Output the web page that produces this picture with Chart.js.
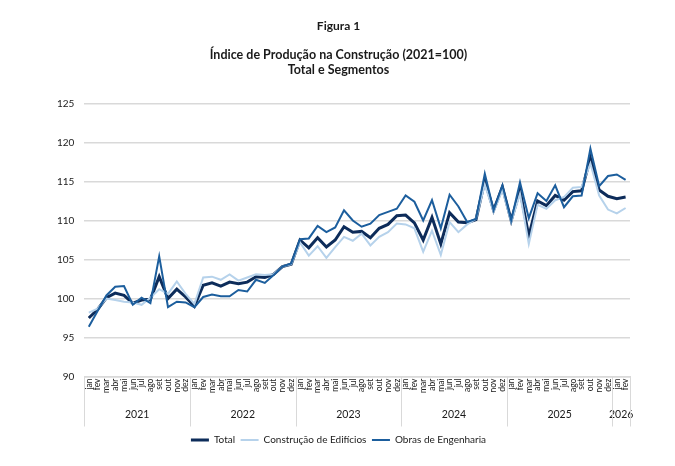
<!DOCTYPE html>
<html>
<head>
<meta charset="utf-8">
<script src="https://cdn.jsdelivr.net/npm/chart.js@4.4.1/dist/chart.umd.min.js"></script>
<style>
  html, body { margin: 0; padding: 0; background: #ffffff; }
  #wrap { width: 675px; height: 466px; position: relative; }
</style>
</head>
<body>
<div id="wrap"><canvas id="c" width="675" height="466"></canvas></div>
<script>
// ---- data ----
const monthNames = ['jan','fev','mar','abr','mai','jun','jul','ago','set','out','nov','dez'];
const years = ['2021','2022','2023','2024','2025','2026'];
const monthsPerYear = [12, 12, 12, 12, 12, 2];

const total = [
  97.5, 98.6, 100.1, 100.7, 100.4, 99.4, 99.8, 99.9, 102.8, 100.0, 101.2, 100.2,
  99.0, 101.7, 102.0, 101.6, 102.1, 101.9, 102.1, 102.8, 102.7, 103.1, 104.1, 104.4,
  107.5, 106.5, 107.8, 106.6, 107.5, 109.2, 108.5, 108.6, 107.8, 109.0, 109.5, 110.6,
  110.7, 109.7, 107.5, 110.4, 107.0, 111.0, 109.8, 109.7, 110.1, 115.1, 111.3, 114.3,
  110.0, 113.9, 108.0, 112.5, 111.9, 113.2, 112.6, 113.7, 113.8, 118.0, 113.9, 113.1,
  112.8, 113.0
];
const edificios = [
  98.2, 98.7, 100.0, 99.8, 99.6, 99.5, 99.2, 100.1, 101.2, 100.6, 102.2, 100.6,
  99.3, 102.7, 102.8, 102.4, 103.1, 102.3, 102.7, 103.1, 103.0, 103.1, 104.1, 104.4,
  107.2, 105.5, 106.7, 105.2, 106.6, 107.9, 107.4, 108.3, 106.8, 107.9, 108.5, 109.6,
  109.5, 109.0, 106.0, 108.7, 105.6, 109.8, 108.5, 109.5, 110.2, 114.6, 111.1, 113.9,
  109.8, 113.4, 107.0, 112.0, 111.5, 112.6, 113.0, 114.2, 114.3, 117.3, 113.2, 111.4,
  110.9, 111.6
];
const engenharia = [
  96.4, 98.4, 100.4, 101.5, 101.6, 99.2, 100.1, 99.4, 105.4, 98.9, 99.6, 99.5,
  98.9, 100.2, 100.5, 100.3, 100.3, 101.1, 100.9, 102.4, 102.0, 103.0, 104.1, 104.5,
  107.6, 107.7, 109.3, 108.5, 109.1, 111.3, 110.0, 109.2, 109.6, 110.7, 111.1, 111.5,
  113.2, 112.4, 110.0, 112.6, 109.0, 113.3, 111.8, 109.8, 110.2, 116.0, 111.3, 114.5,
  110.0, 114.9, 110.3, 113.5, 112.5, 114.5, 111.7, 113.1, 113.2, 119.2, 114.4, 115.7,
  115.9, 115.2
];

// build category labels and year positions from the arrays
const labels = [];
const yearCenters = [];
const yearBounds = [];
let idx = 0;
monthsPerYear.forEach((n) => {
  yearBounds.push(idx);
  for (let m = 0; m < n; m++) labels.push(monthNames[m]);
  yearCenters.push(idx + (n - 1) / 2);
  idx += n;
});
yearBounds.push(idx);

const FONT = "Lato, 'Open Sans', sans-serif";
const GRID = '#d9d9d9';
const TXT = '#1a1a1a';

// year separators, positioned with the x2 scale
const yearSeparators = {
  id: 'yearSeparators',
  afterDraw(chart) {
    const s = chart.scales.x2;
    const ctx = chart.ctx;
    ctx.save();
    ctx.strokeStyle = GRID;
    ctx.lineWidth = 1;
    yearBounds.forEach((b) => {
      const px = Math.round(s.getPixelForValue(b - 0.5)) + 0.5;
      ctx.beginPath();
      ctx.moveTo(px, chart.chartArea.bottom);
      ctx.lineTo(px, s.bottom - 3);
      ctx.stroke();
    });
    ctx.restore();
  }
};

const chart = new Chart(document.getElementById('c'), {
  type: 'line',
  data: {
    labels: labels,
    datasets: [
      { label: 'Total', data: total, borderColor: '#0d2c5a', backgroundColor: '#0d2c5a',
        borderWidth: 3, pointRadius: 0, tension: 0, order: 3 },
      { label: 'Construção de Edifícios', data: edificios, borderColor: '#b6d2eb', backgroundColor: '#b6d2eb',
        borderWidth: 2, pointRadius: 0, tension: 0, order: 2 },
      { label: 'Obras de Engenharia', data: engenharia, borderColor: '#1c5e9d', backgroundColor: '#1c5e9d',
        borderWidth: 2, pointRadius: 0, tension: 0, order: 1 }
    ]
  },
  plugins: [yearSeparators],
  options: {
    responsive: false,
    animation: false,
    devicePixelRatio: 1,
    layout: { padding: { left: 47, right: 45, top: 0, bottom: 11 } },
    plugins: {
      tooltip: { enabled: false },
      title: {
        display: true, text: 'Figura 1', color: TXT,
        font: { family: FONT, size: 12, weight: 'bold' },
        padding: { top: 19, bottom: 14 }
      },
      subtitle: {
        display: true, text: ['Índice de Produção na Construção (2021=100)', 'Total e Segmentos'], color: TXT,
        font: { family: FONT, size: 12.5, weight: 'bold', lineHeight: 1.18 },
        padding: { top: 0, bottom: 26.5 }
      },
      legend: {
        position: 'bottom',
        labels: {
          color: TXT, font: { family: FONT, size: 10 },
          usePointStyle: true, pointStyle: 'line', pointStyleWidth: 18,
          padding: 5.5,
          sort: (a, b) => a.datasetIndex - b.datasetIndex
        }
      }
    },
    scales: {
      y: {
        min: 90, max: 125,
        ticks: { stepSize: 5, color: TXT, font: { family: FONT, size: 10 }, padding: 10 },
        grid: { color: GRID, lineWidth: 1.5, drawTicks: false },
        border: { display: false }
      },
      x: {
        type: 'category',
        offset: true,
        weight: 0,
        grid: { display: false, drawTicks: false },
        border: { display: true, color: GRID, width: 1.5 },
        ticks: {
          autoSkip: false, maxRotation: 90, minRotation: 90, padding: 2,
          color: TXT, font: { family: FONT, size: 8.5 }
        }
      },
      x2: {
        type: 'linear',
        position: 'bottom',
        weight: 1,
        min: -0.5, max: labels.length - 0.5,
        afterBuildTicks: (scale) => { scale.ticks = yearCenters.map((v) => ({ value: v })); },
        grid: { display: false, drawTicks: false },
        border: { display: false },
        ticks: {
          autoSkip: false, maxRotation: 0, padding: 13.5,
          color: TXT, font: { family: FONT, size: 10.5 },
          callback: (v) => { const i = yearCenters.indexOf(v); return i >= 0 ? years[i] : ''; }
        },
        afterFit: (scale) => { scale.height -= 5; }
      }
    }
  }
});
</script>
</body>
</html>
